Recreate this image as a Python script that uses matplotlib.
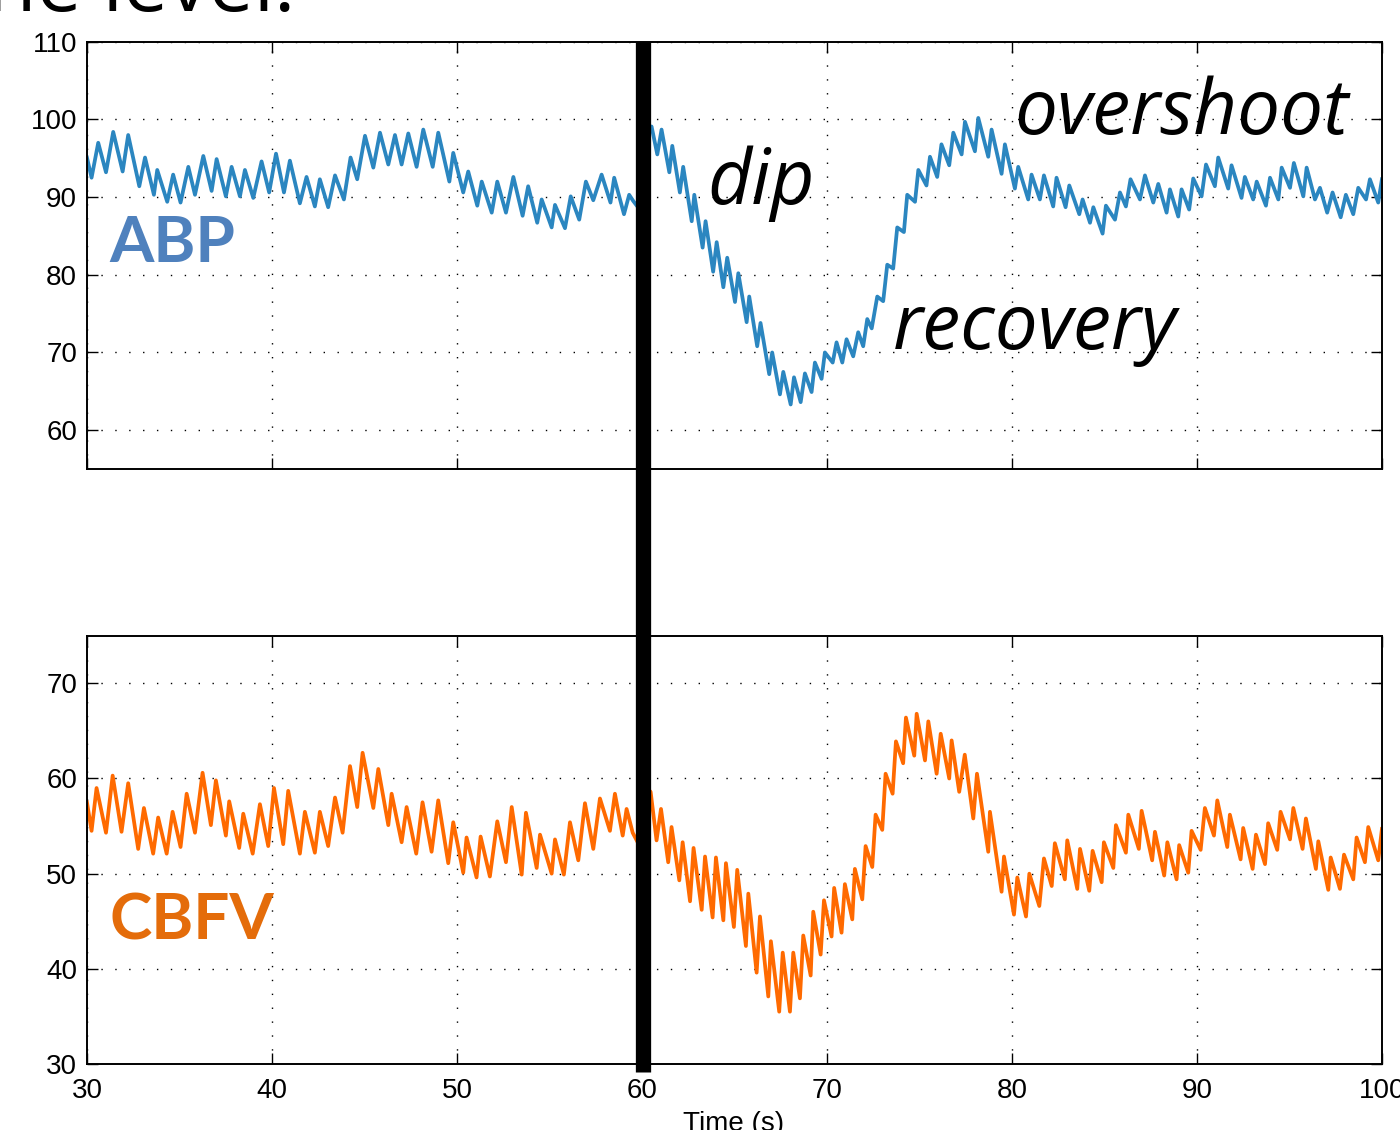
import matplotlib
matplotlib.use("Agg")
import matplotlib.pyplot as plt
from matplotlib.lines import Line2D

# turning points of each beat (trough / peak)
abp_t = [30.00, 30.25, 30.61, 31.03, 31.42, 31.93, 32.23, 32.83, 33.14, 33.62, 33.80, 34.34, 34.66, 35.06,
         35.48, 35.84, 36.29, 36.74, 37.01, 37.51, 37.82, 38.27, 38.54, 38.99, 39.44, 39.85, 40.22, 40.65,
         40.97, 41.51, 41.87, 42.32, 42.59, 43.04, 43.41, 43.89, 44.25, 44.61, 45.03, 45.48, 45.84, 46.29,
         46.65, 47.01, 47.37, 47.82, 48.18, 48.69, 48.99, 49.59, 49.80, 50.34, 50.61, 51.10, 51.34, 51.88,
         52.18, 52.65, 53.05, 53.55, 53.85, 54.34, 54.58, 55.12, 55.30, 55.84, 56.15, 56.61, 56.97, 57.37,
         57.82, 58.30, 58.50, 59.03, 59.31, 59.53, 59.85, 60.25, 60.52, 60.83, 61.06, 61.48, 61.64, 62.05,
         62.23, 62.69, 62.83, 63.28, 63.44, 63.85, 64.04, 64.40, 64.61, 65.03, 65.21, 65.66, 65.80, 66.23,
         66.41, 66.88, 67.04, 67.46, 67.64, 68.04, 68.22, 68.58, 68.81, 69.17, 69.35, 69.71, 69.89, 70.31,
         70.52, 70.83, 71.06, 71.42, 71.69, 71.96, 72.18, 72.42, 72.72, 73.04, 73.26, 73.58, 73.80, 74.16,
         74.34, 74.76, 74.94, 75.38, 75.57, 75.96, 76.19, 76.61, 76.83, 77.28, 77.46, 78.00, 78.18, 78.72,
         78.90, 79.44, 79.62, 80.16, 80.34, 80.88, 81.06, 81.51, 81.73, 82.23, 82.41, 82.90, 83.10, 83.64,
         83.82, 84.22, 84.40, 84.90, 85.08, 85.57, 85.84, 86.16, 86.41, 86.92, 87.19, 87.64, 87.91, 88.36,
         88.54, 88.99, 89.17, 89.58, 89.80, 90.25, 90.49, 90.97, 91.15, 91.69, 91.87, 92.41, 92.59, 93.04,
         93.23, 93.73, 93.95, 94.40, 94.58, 95.03, 95.24, 95.75, 95.93, 96.38, 96.65, 97.04, 97.33, 97.77,
         98.05, 98.45, 98.72, 99.14, 99.35, 99.80, 100.0]
abp_v = [95.1, 92.5, 97.0, 93.2, 98.4, 93.3, 98.0, 91.4, 95.1, 90.3, 93.5, 89.4, 92.9, 89.3,
         93.9, 90.3, 95.3, 90.8, 94.9, 90.1, 93.9, 90.1, 93.5, 89.9, 94.6, 90.6, 95.6, 90.6,
         94.7, 89.2, 92.6, 88.8, 92.3, 88.7, 92.8, 89.7, 95.1, 92.3, 97.9, 93.8, 98.3, 94.2,
         98.0, 94.2, 98.2, 93.9, 98.7, 93.9, 98.3, 92.0, 95.7, 90.6, 93.3, 88.9, 92.0, 88.0,
         92.0, 88.0, 92.6, 87.6, 91.4, 86.7, 89.7, 86.1, 89.0, 86.0, 90.1, 87.1, 92.0, 89.6,
         92.9, 89.3, 92.5, 87.8, 90.3, 89.5, 88.5, 98.5, 99.1, 95.5, 98.7, 93.2, 96.6, 90.6,
         93.9, 86.9, 90.3, 83.5, 86.9, 80.4, 84.2, 78.4, 82.2, 76.5, 80.2, 73.9, 77.2, 70.8,
         73.8, 67.2, 70.0, 64.6, 67.5, 63.3, 66.8, 63.6, 67.3, 64.9, 68.7, 66.6, 70.0, 68.7,
         71.3, 68.7, 71.7, 69.5, 72.6, 70.8, 74.3, 73.1, 77.2, 76.6, 81.3, 80.8, 86.1, 85.5,
         90.3, 89.4, 93.5, 91.5, 95.2, 92.6, 96.8, 94.1, 98.3, 95.5, 99.7, 95.9, 100.2, 95.2,
         98.7, 93.0, 96.8, 91.1, 93.9, 89.7, 92.9, 89.7, 92.8, 88.8, 92.5, 88.7, 91.5, 87.8,
         89.7, 86.7, 88.7, 85.3, 88.9, 87.1, 90.6, 88.8, 92.3, 89.7, 92.8, 89.3, 91.7, 88.0,
         91.0, 87.5, 91.0, 88.4, 92.4, 90.1, 94.2, 91.4, 95.1, 91.1, 94.1, 89.9, 92.6, 89.7,
         92.0, 88.9, 92.5, 89.7, 93.8, 91.2, 94.4, 90.1, 93.8, 89.7, 91.2, 88.0, 90.6, 87.4,
         90.3, 87.8, 91.2, 89.7, 92.3, 89.3, 92.3]

cbfv_t = [30.00, 30.25, 30.52, 31.03, 31.39, 31.87, 32.23, 32.77, 33.08, 33.58, 33.85, 34.31, 34.63, 35.06,
          35.39, 35.84, 36.25, 36.70, 36.97, 37.51, 37.69, 38.23, 38.45, 38.96, 39.35, 39.80, 40.11, 40.61,
          40.88, 41.51, 41.78, 42.32, 42.59, 43.04, 43.41, 43.82, 44.22, 44.61, 44.90, 45.48, 45.75, 46.29,
          46.47, 47.01, 47.28, 47.80, 48.14, 48.63, 48.99, 49.53, 49.80, 50.34, 50.52, 51.06, 51.28, 51.78,
          52.18, 52.65, 52.96, 53.50, 53.73, 54.31, 54.49, 55.12, 55.30, 55.78, 56.11, 56.56, 56.92, 57.37,
          57.73, 58.27, 58.54, 58.96, 59.17, 59.50, 59.85, 60.25, 60.47, 60.79, 61.03, 61.42, 61.60, 62.02,
          62.20, 62.60, 62.79, 63.23, 63.41, 63.82, 64.00, 64.40, 64.54, 64.97, 65.15, 65.62, 65.75, 66.20,
          66.38, 66.83, 66.97, 67.42, 67.61, 68.00, 68.18, 68.54, 68.72, 69.12, 69.26, 69.66, 69.84, 70.25,
          70.39, 70.79, 70.97, 71.37, 71.51, 71.91, 72.09, 72.45, 72.63, 72.99, 73.17, 73.55, 73.73, 74.12,
          74.27, 74.72, 74.85, 75.30, 75.48, 75.93, 76.15, 76.61, 76.74, 77.15, 77.45, 77.91, 78.11, 78.72,
          78.81, 79.44, 79.57, 80.11, 80.29, 80.76, 80.94, 81.48, 81.73, 82.15, 82.32, 82.86, 82.99, 83.53,
          83.68, 84.18, 84.36, 84.85, 84.97, 85.48, 85.62, 86.16, 86.29, 86.86, 87.01, 87.58, 87.73, 88.23,
          88.40, 88.90, 89.04, 89.53, 89.71, 90.20, 90.43, 90.92, 91.10, 91.64, 91.78, 92.36, 92.50, 93.01,
          93.19, 93.68, 93.85, 94.34, 94.52, 95.03, 95.21, 95.71, 95.89, 96.43, 96.56, 97.10, 97.23, 97.73,
          97.95, 98.45, 98.63, 99.08, 99.26, 99.80, 100.0]
cbfv_v = [57.5, 54.5, 59.0, 54.3, 60.3, 54.4, 59.5, 52.6, 56.9, 52.1, 55.9, 52.1, 56.5, 52.8,
          58.4, 54.3, 60.6, 55.1, 59.8, 54.0, 57.6, 52.7, 56.3, 52.1, 57.3, 52.9, 59.0, 53.1,
          58.7, 52.1, 56.5, 52.2, 56.5, 52.9, 58.0, 54.3, 61.3, 57.0, 62.7, 56.9, 61.0, 55.1,
          58.4, 53.3, 57.0, 52.1, 57.5, 52.3, 57.7, 51.1, 55.4, 50.1, 53.8, 49.6, 53.9, 49.7,
          55.5, 51.2, 57.0, 49.9, 56.4, 50.6, 54.1, 50.0, 53.6, 49.9, 55.4, 51.4, 57.4, 52.6,
          57.9, 54.5, 58.4, 54.0, 56.8, 54.3, 53.0, 59.0, 58.6, 53.5, 56.8, 51.2, 54.9, 49.3,
          53.3, 47.1, 52.7, 46.2, 51.8, 45.4, 51.7, 45.1, 51.1, 44.4, 50.4, 42.4, 47.9, 39.6,
          45.5, 37.1, 42.9, 35.5, 41.7, 35.5, 41.7, 36.9, 43.5, 39.3, 46.0, 41.5, 47.2, 43.4,
          48.5, 43.8, 48.9, 45.2, 50.5, 47.3, 52.9, 50.7, 56.2, 54.6, 60.5, 58.4, 63.9, 61.6,
          66.4, 62.4, 66.8, 61.9, 66.0, 60.5, 64.7, 60.0, 64.0, 58.6, 62.5, 55.8, 60.5, 52.3,
          56.5, 48.1, 51.8, 45.7, 49.6, 45.5, 50.0, 46.6, 51.6, 48.7, 53.2, 49.4, 53.5, 48.4,
          52.6, 48.2, 52.4, 49.1, 53.3, 50.6, 55.1, 52.2, 56.2, 52.6, 56.6, 51.4, 54.4, 49.8,
          53.3, 49.4, 53.0, 50.1, 54.5, 52.5, 56.9, 54.0, 57.7, 52.8, 56.2, 51.5, 54.8, 50.5,
          54.1, 51.0, 55.3, 52.5, 56.5, 53.6, 56.9, 52.6, 55.8, 50.5, 53.4, 48.3, 51.7, 48.4,
          52.0, 49.4, 53.8, 51.2, 54.9, 51.4, 54.7]

xticks = [30, 40, 50, 60, 70, 80, 90, 100]
abp_ticks = [60, 70, 80, 90, 100, 110]
cbfv_ticks = [30, 40, 50, 60, 70]
event_t = 60.05

plt.rcParams['font.family'] = ['Liberation Sans', 'DejaVu Sans']

fig = plt.figure(figsize=(14, 11.3), dpi=100)
ax1 = fig.add_axes([0.0621, 0.585, 0.925, 0.378])
ax2 = fig.add_axes([0.0621, 0.0584, 0.925, 0.379])

def style(ax, yt, ylim):
    ax.set_xlim(30, 100)
    ax.set_ylim(*ylim)
    ax.set_xticks(xticks)
    ax.set_yticks(yt)
    ax.grid(True, color='black', linestyle=(0, (1, 9)), linewidth=1.0)
    ax.tick_params(direction='in', length=8, width=1, top=True, right=True, labelsize=20, pad=7)
    ax.tick_params(axis='x', pad=10)
    for s in ax.spines.values():
        s.set_linewidth(1.4)

ax1.plot(abp_t, abp_v, color='#2b86c0', linewidth=2.7, solid_joinstyle='round')
style(ax1, abp_ticks, (55, 110))
ax1.set_xticklabels([])

ax2.plot(cbfv_t, cbfv_v, color='#ff6a00', linewidth=2.7, solid_joinstyle='round')
style(ax2, cbfv_ticks, (30, 75))

# labels
ax1.text(31.2, 81.7, "ABP", color='#4f81bd', fontsize=46, fontweight='bold', family='Lato')
ax2.text(31.2, 43.1, "CBFV", color='#e46c0a', fontsize=46, fontweight='bold', family='Lato')
ax1.text(63.55, 89.1, "dip", fontsize=55, style='italic', family='Open Sans')
ax1.text(73.55, 70.4, "recovery", fontsize=55, style='italic', family='Open Sans')
ax1.text(80.15, 98.1, "overshoot", fontsize=55, style='italic', family='Open Sans')

# event marker spanning both panels
inv = fig.transFigure.inverted()
xf = inv.transform(ax2.transData.transform((event_t, 30)))[0]
fig.add_artist(Line2D([xf, xf], [1 - 1072 / 1130, 1 - 42 / 1130], color='black',
                      linewidth=11, solid_capstyle='butt', transform=fig.transFigure))

fig.text(0.524, 1 - 1111 / 1130, "Time (s)", fontsize=20, ha='center', va='top')
fig.text(-0.009, 1 - 11 / 1130, "ne level.", fontsize=58, family='Open Sans', va='baseline')

fig.savefig("out.png", dpi=100)
